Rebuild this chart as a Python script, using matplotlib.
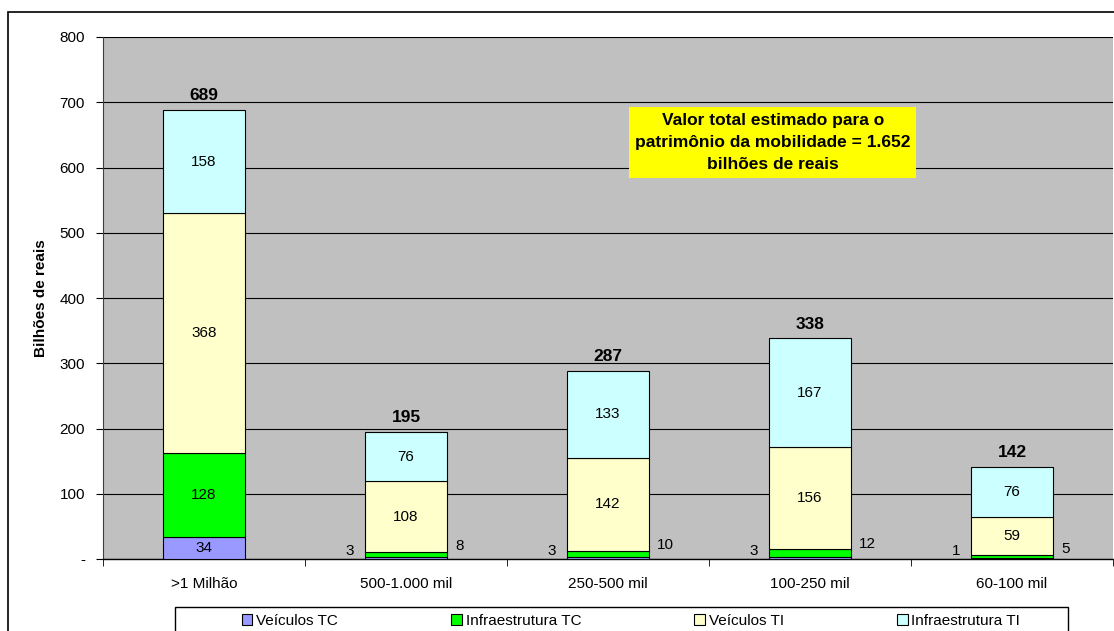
import numpy as np
import matplotlib.pyplot as plt
from matplotlib.patches import Rectangle
from matplotlib.ticker import FuncFormatter

plt.rcParams['font.family'] = ['Liberation Sans', 'DejaVu Sans']

categories = [">1 Milhão", "500-1.000 mil", "250-500 mil", "100-250 mil", "60-100 mil"]
series_names = ["Veículos TC", "Infraestrutura TC", "Veículos TI", "Infraestrutura TI"]
veiculos_tc = [34, 3, 3, 3, 1]
infra_tc = [128, 8, 10, 12, 5]
veiculos_ti = [368, 108, 142, 156, 59]
infra_ti = [158, 76, 133, 167, 76]
totals = [689, 195, 287, 338, 142]
note = "Valor total estimado para o\npatrimônio da mobilidade = 1.652\nbilhões de reais"

colors = ["#9999FF", "#00FF00", "#FFFFCC", "#CCFFFF"]

fig = plt.figure(figsize=(11.14, 6.31), dpi=100)
ax = fig.add_axes([103 / 1114, 72 / 631, 1010 / 1114, 522 / 631])
ax.set_facecolor("#C0C0C0")

# outer chart border (cut by the image edge on right/bottom)
fig.patches.append(Rectangle((8 / 1114, -0.1), 1.2, 1 - 12 / 631 + 0.1,
                             transform=fig.transFigure, fill=False,
                             edgecolor="black", linewidth=1.2))

x = np.arange(len(categories))
width = 0.405
bottom = np.zeros(len(categories))
series = [veiculos_tc, infra_tc, veiculos_ti, infra_ti]
bars = []
for vals, col, name in zip(series, colors, series_names):
    b = ax.bar(x, vals, width, bottom=bottom, color=col, edgecolor="black",
               linewidth=0.8, label=name, zorder=3)
    bars.append(b)
    # labels inside segments that are tall enough
    for i, v in enumerate(vals):
        if v >= 20:
            ax.text(x[i], bottom[i] + v / 2, str(v), ha="center", va="center",
                    fontsize=11, zorder=4)
    bottom += np.array(vals)

# small values written beside the bars
for i in range(1, len(categories)):
    ax.annotate(str(veiculos_tc[i]), (x[i] - width / 2, 0), xytext=(-8, 1),
                textcoords="offset points", ha="right", va="bottom", fontsize=11)
    ax.annotate(str(infra_tc[i]), (x[i] + width / 2, veiculos_tc[i] + infra_tc[i]),
                xytext=(6, -1), textcoords="offset points", ha="left",
                va="bottom", fontsize=11)

for i, t in enumerate(totals):
    ax.annotate(str(t), (x[i], bottom[i]), xytext=(0, 5), textcoords="offset points",
                ha="center", va="bottom", fontsize=12.5, fontweight="bold")

ax.set_ylim(0, 800)
ax.set_xlim(-0.5, len(categories) - 0.5)
ax.set_yticks(np.arange(0, 801, 100))
ax.yaxis.set_major_formatter(FuncFormatter(lambda v, p: "-" if v == 0 else f"{v:.0f}"))
ax.grid(axis="y", color="black", linewidth=0.8, zorder=1)
ax.tick_params(axis="y", direction="out", length=5, labelsize=11, pad=8)

ax.set_xticks(x)
ax.set_xticklabels(categories)
ax.set_xticks(np.arange(-0.5, len(categories), 1), minor=True)
ax.tick_params(axis="x", which="major", length=0, labelsize=11, pad=13)
ax.tick_params(axis="x", which="minor", direction="out", length=5)

for s in ["top", "right"]:
    ax.spines[s].set_visible(False)
ax.spines["left"].set_color("#404040")
ax.spines["bottom"].set_linewidth(1.0)

ax.set_ylabel("Bilhões de reais", fontsize=11, fontweight="bold", labelpad=8)

ax.text(0.663, 0.798, note, transform=ax.transAxes, ha="center", va="center",
        fontsize=12.5, fontweight="bold", linespacing=1.55, zorder=5,
        bbox=dict(boxstyle="square,pad=0.35", facecolor="#FFFF00", edgecolor="none"))

# legend frame drawn separately, entries centred inside it
fig.patches.append(Rectangle((175 / 1114, -0.1), (1068 - 175) / 1114, 0.1 + 1 - 607 / 631,
                             transform=fig.transFigure, fill=False,
                             edgecolor="black", linewidth=1.0))
fig.legend(handles=bars, labels=series_names, ncol=4, loc="upper center",
           bbox_to_anchor=(631 / 1114, 1 - 607 / 631), fontsize=11, frameon=False,
           handlelength=0.7, handleheight=0.7, handletextpad=0.25,
           columnspacing=7.4, borderaxespad=0, borderpad=0.45)

fig.savefig("out.png", dpi=100)
